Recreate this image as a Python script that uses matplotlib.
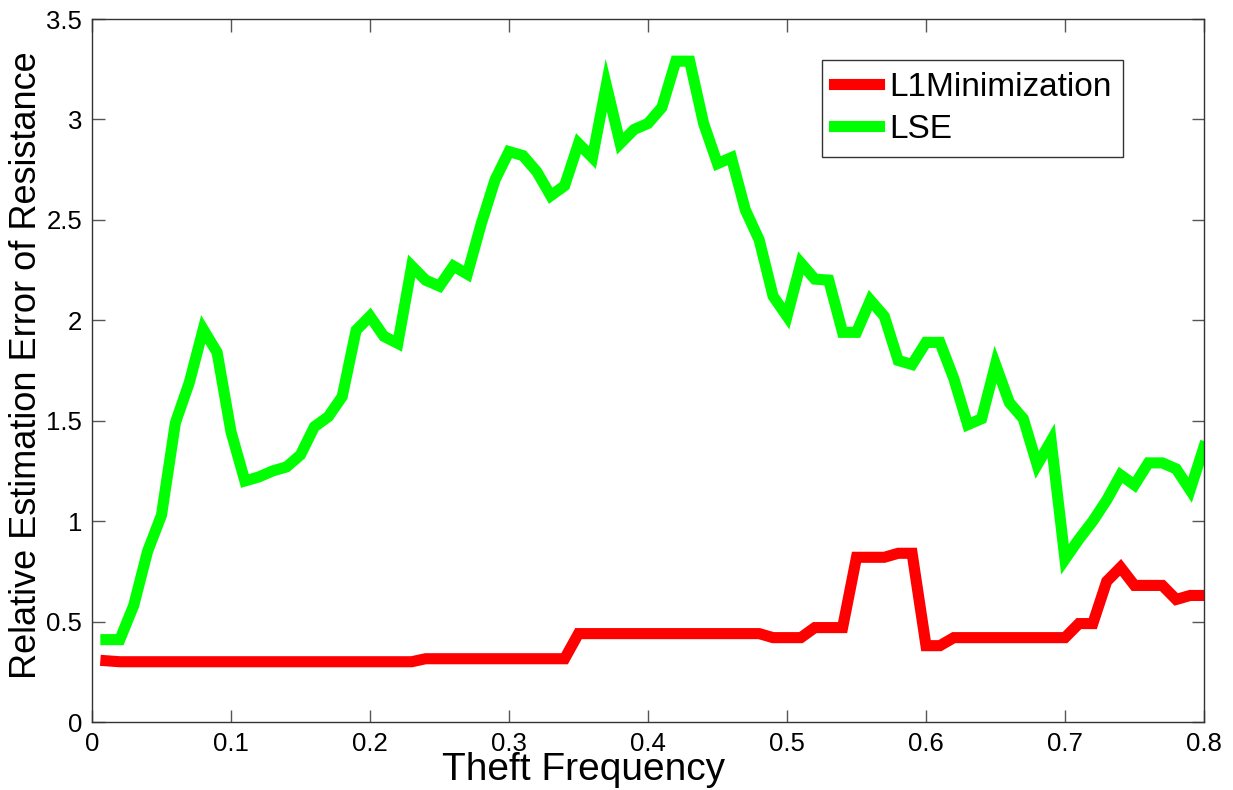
import numpy as np
import matplotlib
matplotlib.use("Agg")
import matplotlib.pyplot as plt

plt.rcParams['font.family'] = ['Liberation Sans', 'DejaVu Sans']

# Theft frequency values (x axis)
theft_freq = [round(0.01 * k, 2) for k in range(1, 81)]

# Relative estimation error of resistance, L1 minimization
l1_error = [
    0.305, 0.30, 0.30, 0.30, 0.30, 0.30, 0.30, 0.30, 0.30, 0.30,
    0.30, 0.30, 0.30, 0.30, 0.30, 0.30, 0.30, 0.30, 0.30, 0.30,
    0.30, 0.30, 0.30, 0.315, 0.315, 0.315, 0.315, 0.315, 0.315, 0.315,
    0.315, 0.315, 0.315, 0.315, 0.44, 0.44, 0.44, 0.44, 0.44, 0.44,
    0.44, 0.44, 0.44, 0.44, 0.44, 0.44, 0.44, 0.44, 0.42, 0.42,
    0.42, 0.47, 0.47, 0.47, 0.82, 0.82, 0.82, 0.84, 0.84, 0.38,
    0.38, 0.42, 0.42, 0.42, 0.42, 0.42, 0.42, 0.42, 0.42, 0.42,
    0.49, 0.49, 0.70, 0.77, 0.68, 0.68, 0.68, 0.61, 0.63, 0.63,
]

# Relative estimation error of resistance, least squares estimation
lse_error = [
    0.41, 0.41, 0.58, 0.85, 1.03, 1.49, 1.69, 1.955, 1.84, 1.445,
    1.20, 1.22, 1.25, 1.27, 1.33, 1.47, 1.52, 1.62, 1.95, 2.02,
    1.92, 1.885, 2.27, 2.20, 2.17, 2.27, 2.23, 2.48, 2.70, 2.84,
    2.82, 2.74, 2.62, 2.67, 2.88, 2.81, 3.17, 2.88, 2.95, 2.98,
    3.06, 3.29, 3.29, 2.98, 2.78, 2.81, 2.55, 2.40, 2.12, 2.02,
    2.285, 2.205, 2.20, 1.94, 1.94, 2.10, 2.02, 1.80, 1.78, 1.89,
    1.89, 1.71, 1.48, 1.51, 1.78, 1.59, 1.51, 1.28, 1.40, 0.81,
    0.91, 1.00, 1.105, 1.23, 1.18, 1.29, 1.29, 1.26, 1.155, 1.37,
]

x_ticks = [0, 0.1, 0.2, 0.3, 0.4, 0.5, 0.6, 0.7, 0.8]
x_tick_labels = ["0", "0.1", "0.2", "0.3", "0.4", "0.5", "0.6", "0.7", "0.8"]
y_ticks = [0, 0.5, 1, 1.5, 2, 2.5, 3, 3.5]
y_tick_labels = ["0", "0.5", "1", "1.5", "2", "2.5", "3", "3.5"]

W, H = 1233, 790
fig = plt.figure(figsize=(W / 100, H / 100), dpi=100)
ax = fig.add_axes([92 / W, 1 - 722 / H, (1204 - 92) / W, (722 - 19) / H])

ax.plot(theft_freq, l1_error, color='#ff0000', lw=8, label='L1Minimization',
        solid_joinstyle='miter')
ax.plot(theft_freq, lse_error, color='#00ff00', lw=8, label='LSE',
        solid_joinstyle='miter')

ax.set_xlim(0, 0.8)
ax.set_ylim(0, 3.5)
ax.set_xticks(x_ticks)
ax.set_xticklabels(x_tick_labels)
ax.set_yticks(y_ticks)
ax.set_yticklabels(y_tick_labels)

for s in ax.spines.values():
    s.set_color('#333333')
    s.set_linewidth(1.0)

ax.tick_params(direction='in', length=9, width=1, color='#555555',
               top=True, right=True, labelsize=18.5, pad=7)

ax.set_xlabel('Theft Frequency', fontsize=28)
ax.xaxis.label.set_va('baseline')
ax.xaxis.set_label_coords((584 - 92) / 1112, (722 - 780) / 703)

ax.set_ylabel('Relative Estimation Error of Resistance', fontsize=26)
ax.yaxis.label.set_va('center')
ax.yaxis.set_label_coords((27 - 92) / 1112, (722 - 365) / 703)

leg = ax.legend(loc='upper left', bbox_to_anchor=((822 - 92) / 1112, (722 - 60) / 703),
                borderaxespad=0, fontsize=24, frameon=True, fancybox=False,
                handlelength=1.35, handletextpad=0.3, borderpad=0.36,
                labelspacing=0.32)
leg.get_frame().set_edgecolor('black')
leg.get_frame().set_linewidth(1.0)

fig.savefig('out.png', dpi=100)
